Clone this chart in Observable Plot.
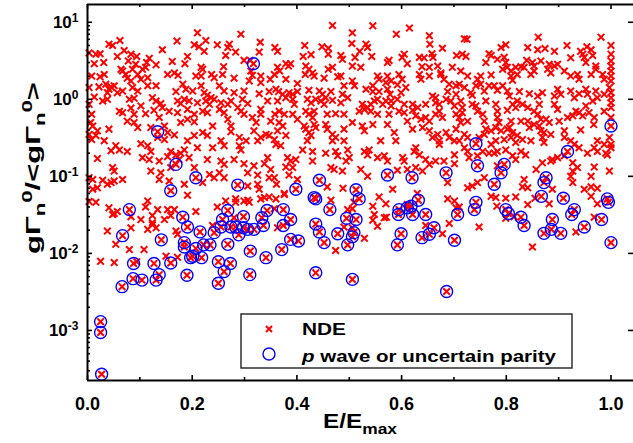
<!DOCTYPE html>
<html><head><meta charset="utf-8">
<script src="https://cdn.jsdelivr.net/npm/d3@7"></script>
<script src="https://cdn.jsdelivr.net/npm/@observablehq/plot@0.6"></script>
<style>
html,body{margin:0;padding:0;background:#fff;overflow:hidden}
#chart{width:633px;height:443px}
</style></head><body><div id="chart"></div>
<script>
// [E/Emax, gΓn0/<gΓn0>] — NDE resonances (red crosses only)
const ndeLeft = [
[0.210,7.3],[0.293,7.0],[0.062,5.8],[0.171,5.7],[0.226,5.8],[0.330,5.5],[0.041,5.2],[0.048,5.0],[0.204,5.1],[0.213,4.8],[0.248,5.1],[0.271,5.2],[0.268,4.7],[0.070,4.3],[0.143,4.4],[0.328,4.1],[0.003,4.0],[0.016,3.85],[0.024,3.9],[0.083,3.85],[0.094,3.6],[0.223,4.2],[0.283,4.1],[0.057,3.6],[0.191,3.6],[0.264,3.7],[0.078,3.15],[0.118,3.4],[0.113,3.0],[0.013,2.9],[0.031,3.0],[0.092,2.85],[0.131,2.8],[0.162,3.1],[0.186,2.9],[0.220,2.45],[0.217,2.6],[0.260,2.65],[0.299,3.2],[0.311,3.2],
[0.064,2.45],[0.067,2.33],[0.105,2.45],[0.086,2.45],[0.111,2.6],[0.032,2.1],[0.008,2.0],[0.024,1.96],[0.073,2.1],[0.076,1.88],[0.083,1.73],[0.096,2.1],[0.102,1.82],[0.115,1.91],[0.153,2.1],[0.166,2.2],[0.173,2.05],[0.207,2.0],[0.217,2.0],[0.237,2.1],[0.242,1.91],[0.258,2.1],[0.280,1.88],[0.312,2.33],[0.315,2.05],[0.309,1.73],[0.331,2.0],[0.331,1.65],[0.349,1.82],
[0.003,1.42],[0.022,1.45],[0.035,1.57],[0.041,1.35],[0.045,1.45],[0.051,1.5],[0.038,1.22],[0.057,1.22],[0.067,1.28],[0.086,1.42],[0.096,1.28],[0.131,1.5],[0.115,1.5],[0.182,1.57],[0.188,1.35],[0.201,1.28],[0.169,1.26],[0.217,1.5],[0.223,1.22],[0.229,1.13],[0.236,1.05],[0.252,1.5],[0.261,1.28],[0.280,1.22],[0.299,1.28],[0.328,1.18],[0.347,1.26],
[0.029,0.95],[0.038,1.0],[0.013,1.07],[0.003,0.86],[0.080,1.0],[0.089,1.03],[0.124,1.05],[0.131,0.95],[0.140,0.88],[0.172,0.95],[0.178,0.88],[0.185,1.0],[0.194,0.95],[0.210,0.90],[0.226,0.95],[0.233,0.86],[0.242,1.0],[0.255,0.90],[0.268,0.86],[0.274,0.95],[0.296,1.0],[0.306,0.88],[0.344,0.95],
[0.061,0.70],[0.067,0.67],[0.083,0.77],[0.089,0.64],[0.102,0.82],[0.111,0.65],[0.127,0.72],[0.143,0.78],[0.156,0.70],[0.172,0.67],[0.191,0.74],[0.204,0.64],[0.220,0.70],[0.229,0.67],[0.252,0.74],[0.261,0.67],[0.287,0.78],[0.293,0.70],[0.299,0.64],[0.331,0.74],[0.331,0.64],[0.008,0.64],[0.006,0.50],[0.010,0.45],[0.076,0.52],[0.089,0.50],[0.137,0.58],[0.178,0.50],[0.191,0.55],[0.204,0.51],[0.239,0.45],[0.268,0.55],[0.274,0.45],[0.315,0.58],[0.322,0.50],[0.350,0.52],
[0.003,0.35],[0.019,0.39],[0.041,0.41],[0.096,0.43],[0.121,0.43],[0.147,0.45],[0.153,0.37],[0.166,0.345],[0.220,0.37],[0.229,0.34],[0.274,0.38],[0.318,0.39],[0.341,0.35],[0.008,0.30],[0.016,0.34],[0.032,0.29],[0.134,0.32],[0.147,0.30],[0.191,0.29],[0.204,0.34],[0.290,0.32],[0.303,0.29],[0.325,0.29],[0.331,0.32],[0.347,0.34],
[0.054,0.25],[0.061,0.22],[0.045,0.215],[0.076,0.21],[0.102,0.265],[0.115,0.25],[0.121,0.21],[0.159,0.21],[0.169,0.19],[0.178,0.20],[0.185,0.22],[0.210,0.235],[0.239,0.235],[0.255,0.29],[0.261,0.25],[0.290,0.25],[0.293,0.22],[0.019,0.17],[0.105,0.175],[0.118,0.165],[0.137,0.158],[0.153,0.18],[0.159,0.13],[0.175,0.165],[0.194,0.175],[0.229,0.165],[0.255,0.158],[0.261,0.143],[0.280,0.165],[0.299,0.146],[0.318,0.137],[0.338,0.146],[0.344,0.175],
[0.048,0.13],[0.051,0.117],[0.121,0.117],[0.140,0.111],[0.204,0.13],[0.233,0.106],[0.252,0.111],[0.261,0.096],[0.306,0.111],[0.325,0.104],[0.350,0.123],[0.003,0.096],[0.010,0.091],[0.029,0.089],[0.038,0.079],[0.045,0.083],[0.051,0.087],[0.067,0.091],[0.019,0.071],[0.137,0.091],[0.156,0.087],[0.185,0.079],[0.220,0.083],[0.242,0.096],[0.325,0.079],[0.328,0.068],[0.306,0.075],[0.347,0.096],[0.010,0.068]
];
const ndeMid = [
[0.468,9.1],[0.545,9.0],[0.615,8.4],[0.506,7.3],[0.590,7.0],[0.653,6.7],[0.505,5.3],[0.532,5.2],[0.415,5.0],[0.358,4.7],[0.448,4.8],[0.460,4.6],[0.678,4.6],[0.654,5.2],[0.363,4.2],[0.535,4.7],[0.520,4.2],[0.460,3.85],[0.543,3.6],[0.412,3.6],[0.427,3.8],[0.484,3.7],[0.487,3.3],[0.511,3.5],[0.576,3.2],[0.573,3.0],[0.605,3.85],[0.601,3.5],[0.634,3.5],[0.643,3.45],[0.658,3.9],[0.660,3.5],[0.705,3.7],[0.611,2.9],[0.379,2.9],[0.384,2.7],[0.388,2.9],[0.363,2.6],[0.367,2.33],[0.417,2.7],[0.423,2.45],[0.468,2.6],[0.460,2.45],[0.506,2.7],[0.522,2.6],[0.639,2.65],[0.653,2.6],[0.669,2.7],[0.697,2.6],[0.675,2.2],
[0.357,2.1],[0.379,1.82],[0.401,1.6],[0.430,2.2],[0.433,2.0],[0.416,2.1],[0.452,1.88],[0.478,1.96],[0.484,2.0],[0.506,1.73],[0.490,1.5],[0.510,1.5],[0.554,2.0],[0.557,1.82],[0.545,1.5],[0.573,2.0],[0.570,1.65],[0.580,1.73],[0.595,2.1],[0.601,1.82],[0.592,1.54],[0.608,1.42],[0.634,2.1],[0.637,1.82],[0.653,2.0],[0.675,2.1],[0.681,1.82],[0.691,1.57],[0.704,1.5],
[0.360,1.35],[0.365,1.26],[0.373,1.16],[0.385,1.22],[0.392,1.16],[0.401,1.26],[0.423,1.31],[0.443,1.28],[0.449,1.16],[0.465,1.26],[0.487,1.16],[0.532,1.35],[0.545,1.26],[0.557,1.26],[0.573,1.35],[0.578,1.16],[0.599,1.22],[0.659,1.1],[0.665,1.05],[0.688,1.26],[0.704,1.16],
[0.363,0.95],[0.379,1.05],[0.392,1.0],[0.395,0.86],[0.420,1.0],[0.427,0.90],[0.436,1.0],[0.446,0.95],[0.452,0.86],[0.455,1.05],[0.468,0.97],[0.484,0.90],[0.497,1.05],[0.525,0.86],[0.535,0.78],[0.541,0.86],[0.548,0.95],[0.554,1.0],[0.564,0.86],[0.570,0.95],[0.580,0.95],[0.580,0.82],[0.592,1.0],[0.605,0.86],[0.621,0.86],[0.631,0.78],[0.646,0.86],[0.665,0.90],[0.672,0.86],[0.685,1.0],[0.694,0.95],[0.701,0.82],
[0.366,0.70],[0.358,0.64],[0.376,0.64],[0.392,0.64],[0.401,0.55],[0.417,0.70],[0.423,0.64],[0.430,0.58],[0.433,0.70],[0.458,0.64],[0.474,0.65],[0.490,0.64],[0.519,0.70],[0.529,0.74],[0.541,0.70],[0.554,0.64],[0.576,0.64],[0.595,0.70],[0.605,0.67],[0.621,0.72],[0.627,0.61],[0.637,0.55],[0.646,0.58],[0.653,0.52],[0.665,0.64],[0.672,0.70],[0.678,0.58],[0.704,0.64],
[0.366,0.50],[0.373,0.45],[0.363,0.39],[0.379,0.34],[0.357,0.30],[0.360,0.26],[0.369,0.25],[0.414,0.45],[0.417,0.41],[0.423,0.37],[0.427,0.34],[0.420,0.29],[0.433,0.47],[0.436,0.43],[0.455,0.47],[0.458,0.41],[0.468,0.35],[0.474,0.32],[0.468,0.29],[0.490,0.41],[0.490,0.29],[0.506,0.50],[0.525,0.45],[0.529,0.39],[0.545,0.47],[0.560,0.29],[0.573,0.47],[0.586,0.37],[0.589,0.29],[0.611,0.52],[0.621,0.41],[0.640,0.43],[0.653,0.39],[0.659,0.32],[0.669,0.35],[0.672,0.29],[0.685,0.37],[0.691,0.32],[0.704,0.41],[0.701,0.29],[0.672,0.26],
[0.382,0.175],[0.388,0.158],[0.398,0.165],[0.411,0.22],[0.430,0.21],[0.430,0.158],[0.455,0.20],[0.474,0.21],[0.478,0.185],[0.497,0.22],[0.500,0.175],[0.494,0.158],[0.529,0.21],[0.538,0.22],[0.535,0.19],[0.554,0.175],[0.567,0.185],[0.573,0.158],[0.602,0.175],[0.605,0.158],[0.624,0.21],[0.627,0.235],[0.634,0.19],[0.646,0.165],[0.653,0.143],[0.665,0.158],[0.681,0.158],[0.701,0.19],[0.701,0.146],
[0.379,0.132],[0.392,0.13],[0.357,0.096],[0.385,0.104],[0.401,0.091],[0.465,0.13],[0.471,0.123],[0.487,0.117],[0.522,0.123],[0.535,0.10],[0.592,0.12],[0.611,0.123],[0.627,0.13],[0.640,0.117],[0.688,0.083],[0.361,0.079],[0.458,0.073],[0.488,0.07],[0.583,0.068],[0.630,0.060],[0.376,0.060]
];
const ndeRight = [
[0.861,6.4],[0.981,6.4],[0.720,6.1],[0.725,6.0],[1.000,5.0],[0.790,4.7],[0.799,5.1],[0.841,4.7],[0.860,4.4],[0.874,4.55],[0.892,4.2],[0.916,5.0],[0.954,4.8],[0.942,4.2],[0.946,3.85],[0.949,3.5],[0.962,4.4],[1.000,3.85],[0.716,3.85],[0.723,3.6],[0.767,3.9],[0.771,3.7],[0.761,3.0],[0.783,3.3],[0.796,3.5],[0.799,3.0],[0.839,3.2],[0.850,3.0],[0.853,2.7],[0.866,3.15],[0.882,2.85],[0.892,2.7],[0.898,2.85],[0.923,3.45],[0.952,3.0],[0.965,3.7],[0.971,2.7],[1.000,3.15],[1.000,2.7],[1.000,2.33],
[0.713,2.33],[0.726,2.0],[0.745,1.82],[0.751,2.0],[0.771,2.07],[0.793,2.45],[0.802,2.6],[0.809,2.33],[0.818,2.6],[0.828,2.65],[0.834,2.6],[0.821,2.1],[0.809,2.0],[0.812,1.77],[0.847,2.1],[0.853,2.33],[0.879,2.45],[0.885,2.2],[0.911,2.33],[0.923,2.0],[0.936,2.1],[0.939,1.82],[0.962,2.1],[0.971,2.45],[0.984,2.1],[0.987,1.82],[1.000,2.0],[1.000,1.73],
[0.710,1.57],[0.720,1.42],[0.732,1.22],[0.735,1.13],[0.742,1.5],[0.751,1.57],[0.758,1.28],[0.767,1.5],[0.777,1.5],[0.783,1.31],[0.793,1.5],[0.802,1.28],[0.806,1.1],[0.825,1.26],[0.844,1.18],[0.860,1.1],[0.869,1.22],[0.898,1.35],[0.892,1.1],[0.904,1.16],[0.923,1.28],[0.930,1.05],[0.939,1.18],[0.952,1.35],[0.955,1.16],[0.971,1.28],[0.974,1.05],[0.987,1.16],[0.997,1.42],[1.000,1.22],[1.000,1.05],[1.000,0.90],[1.000,0.78],
[0.713,0.95],[0.716,0.78],[0.716,0.67],[0.735,0.86],[0.742,0.82],[0.745,0.70],[0.755,0.64],[0.761,0.95],[0.780,0.86],[0.783,0.70],[0.802,0.72],[0.812,0.86],[0.818,0.78],[0.821,0.95],[0.831,0.86],[0.841,0.78],[0.853,0.70],[0.860,0.64],[0.863,0.86],[0.866,0.55],[0.876,0.55],[0.892,0.86],[0.898,0.74],[0.917,0.58],[0.927,0.61],[0.933,0.70],[0.939,0.67],[0.946,0.61],[0.952,0.82],[0.958,0.67],[0.965,0.95],[0.968,0.58],[0.987,0.70],[1.000,0.58],
[0.710,0.58],[0.713,0.50],[0.726,0.52],[0.758,0.52],[0.761,0.41],[0.783,0.58],[0.786,0.50],[0.780,0.43],[0.806,0.43],[0.809,0.52],[0.828,0.52],[0.841,0.52],[0.844,0.43],[0.853,0.47],[0.863,0.45],[0.866,0.39],[0.872,0.37],[0.882,0.50],[0.885,0.35],[0.901,0.52],[0.911,0.39],[0.942,0.40],[0.967,0.47],[0.974,0.29],[0.987,0.26],[0.997,0.32],[1.000,0.26],[1.000,0.235],[0.993,0.19],
[0.720,0.35],[0.726,0.32],[0.710,0.29],[0.748,0.32],[0.758,0.35],[0.771,0.39],[0.790,0.39],[0.802,0.41],[0.812,0.37],[0.821,0.34],[0.771,0.26],[0.780,0.29],[0.796,0.30],[0.809,0.32],[0.818,0.275],[0.831,0.30],[0.847,0.29],[0.869,0.32],[0.872,0.275],[0.911,0.32],[0.923,0.29],[0.930,0.26],[0.939,0.235],[0.955,0.20],[0.968,0.235],[0.974,0.21],[0.990,0.20],
[0.720,0.235],[0.726,0.21],[0.745,0.185],[0.755,0.21],[0.767,0.20],[0.777,0.20],[0.783,0.21],[0.799,0.22],[0.812,0.185],[0.818,0.165],[0.828,0.21],[0.837,0.19],[0.888,0.165],[0.898,0.175],[0.911,0.185],[0.927,0.15],[0.729,0.175],[0.783,0.137],[0.857,0.123],[0.869,0.15],[0.885,0.158],[0.927,0.117],[0.936,0.13],[0.962,0.10],[0.968,0.132],[0.997,0.117],
[0.758,0.096],[0.745,0.083],[0.735,0.075],[0.726,0.071],[0.834,0.091],[0.831,0.073],[0.841,0.071],[0.888,0.068],[0.923,0.10],[0.927,0.083],[0.949,0.068],[0.962,0.073],[0.974,0.07]
];
const ndeLow = [
[0.003,0.047],[0.016,0.046],[0.041,0.039],[0.048,0.032],[0.051,0.033],[0.057,0.035],[0.115,0.048],[0.111,0.040],[0.134,0.037],[0.124,0.031],[0.083,0.030],[0.102,0.0275],[0.147,0.0275],[0.153,0.037],[0.166,0.037],[0.159,0.031],[0.207,0.035],[0.191,0.057],[0.264,0.048],[0.283,0.051],[0.283,0.046],[0.299,0.048],[0.306,0.049],[0.309,0.046],[0.331,0.051],[0.338,0.053],[0.347,0.054],[0.248,0.040],[0.239,0.023],[0.280,0.029],[0.169,0.0195],[0.172,0.0177],[0.115,0.0205],[0.124,0.0235],[0.131,0.0215],[0.124,0.025],[0.083,0.0215],[0.038,0.0195],[0.054,0.0131],[0.080,0.0112],[0.108,0.0112],[0.150,0.0092],[0.172,0.0089],[0.025,0.0079],[0.051,0.0076],[0.094,0.0078],
[0.376,0.058],[0.360,0.051],[0.357,0.038],[0.465,0.049],[0.557,0.054],[0.570,0.044],[0.545,0.041],[0.509,0.046],[0.506,0.038],[0.497,0.037],[0.363,0.0215],[0.382,0.025],[0.548,0.032],[0.545,0.027],[0.554,0.0225],[0.567,0.029],[0.571,0.0295],[0.490,0.022],[0.506,0.0215],[0.474,0.0109],[0.529,0.0157],[0.611,0.043],[0.646,0.023],[0.678,0.018],[0.691,0.0245],[0.688,0.051],[0.701,0.048],[0.704,0.039],
[0.710,0.040],[0.771,0.055],[0.780,0.053],[0.799,0.052],[0.818,0.054],[0.855,0.052],[0.882,0.044],[0.782,0.041],[0.841,0.043],[0.962,0.055],[0.974,0.044],[0.748,0.022],[0.799,0.0285],[0.850,0.0121],[0.933,0.019],[0.968,0.0295],[0.815,0.030]
];
// p wave or uncertain parity (also NDE)
const pWave = [
[0.317,2.9],[0.134,0.38],[0.169,0.143],[0.207,0.096],[0.159,0.065],[0.287,0.077],
[0.573,0.104],[0.620,0.096],[0.685,0.111],[0.443,0.089],[0.513,0.067],[0.398,0.068],
[1.000,0.45],[0.742,0.265],[0.917,0.21],[0.745,0.137],[0.796,0.143],[0.790,0.111],[0.876,0.096],[0.872,0.083],[0.777,0.079],
[0.080,0.037],[0.268,0.036],[0.258,0.0275],[0.298,0.030],[0.333,0.029],[0.343,0.036],[0.182,0.0295],[0.191,0.022],[0.255,0.022],[0.274,0.022],[0.283,0.022],[0.298,0.0215],[0.306,0.0205],[0.318,0.0205],[0.336,0.023],[0.067,0.017],[0.141,0.015],[0.242,0.0186],[0.289,0.0174],[0.215,0.019],[0.185,0.0138],[0.185,0.0121],[0.207,0.0116],[0.222,0.0129],[0.234,0.0129],[0.268,0.0131],[0.311,0.0107],[0.197,0.0088],[0.201,0.0092],[0.218,0.0088],[0.341,0.0088],[0.088,0.0074],[0.127,0.0074],[0.159,0.0075],[0.250,0.0078],[0.273,0.0074],[0.261,0.0058],[0.310,0.0053],[0.190,0.0052],[0.137,0.0053],[0.131,0.0045],[0.087,0.0047],[0.104,0.0045],[0.066,0.0037],[0.250,0.0041],[0.025,0.0013],[0.025,0.00094],[0.027,0.00027],
[0.433,0.053],[0.436,0.051],[0.519,0.051],[0.632,0.049],[0.374,0.037],[0.463,0.037],[0.495,0.0285],[0.513,0.0275],[0.595,0.037],[0.594,0.032],[0.611,0.039],[0.618,0.041],[0.621,0.032],[0.646,0.032],[0.388,0.0275],[0.374,0.023],[0.436,0.024],[0.443,0.019],[0.478,0.018],[0.509,0.0186],[0.506,0.0164],[0.497,0.0129],[0.452,0.0138],[0.388,0.0152],[0.403,0.0145],[0.371,0.0112],[0.599,0.018],[0.592,0.0129],[0.639,0.016],[0.653,0.0177],[0.662,0.0215],[0.701,0.0148],[0.436,0.0056],[0.506,0.0046],[0.686,0.0032],
[0.742,0.046],[0.739,0.037],[0.707,0.032],[0.799,0.037],[0.804,0.033],[0.828,0.0295],[0.834,0.023],[0.867,0.055],[0.909,0.052],[0.930,0.037],[0.925,0.032],[0.888,0.0275],[0.886,0.0205],[0.872,0.0182],[0.904,0.0182],[0.949,0.022],[0.982,0.0275],[0.993,0.051],[0.995,0.046],[1.000,0.0138]
];

const xMajor = [0, 0.2, 0.4, 0.6, 0.8, 1.0];
const xMinor = [0.1, 0.3, 0.5, 0.7, 0.9];
const yMajor = [1e-3, 1e-2, 1e-1, 1, 10];
const yMinor = [3e-4,4e-4,5e-4,6e-4,7e-4,8e-4,9e-4,
  2e-3,3e-3,4e-3,5e-3,6e-3,7e-3,8e-3,9e-3,
  2e-2,3e-2,4e-2,5e-2,6e-2,7e-2,8e-2,9e-2,
  0.2,0.3,0.4,0.5,0.6,0.7,0.8,0.9,
  2,3,4,5,6,7,8,9];
const legendLabels = ["NDE", "wave or uncertain parity"];
const xDomain = [0, 1.043];
const yDomain = [2.24e-4, 17];

const toObj = ([E, g]) => ({E, g});
const ndeAll = [...ndeLeft, ...ndeMid, ...ndeRight, ...ndeLow, ...pWave].map(toObj);
const pw = pWave.map(toObj);

const W = 633, H = 443, mL = 87, mR = 0, mT = 4, mB = 63;
const innerW = W - mL - mR, innerH = H - mT - mB;
const ax = {stroke: "black", strokeWidth: 1.6};

const plot = Plot.plot({
  width: W, height: H,
  marginLeft: mL, marginRight: mR, marginTop: mT, marginBottom: mB,
  style: {fontFamily: "'Liberation Sans', Arial, sans-serif", fontWeight: "bold", fontSize: "17px", background: "white", color: "black"},
  x: {domain: xDomain, axis: null},
  y: {type: "log", domain: yDomain, axis: null},
  marks: [
    Plot.dot(ndeAll, {x: "E", y: "g", symbol: "times", r: 3.1, stroke: "#ff0000", strokeWidth: 2}),
    Plot.dot(pw, {x: "E", y: "g", r: 6, stroke: "#0000ff", strokeWidth: 1.4, fill: "none"}),
    Plot.ruleX([xDomain[0]], {stroke: "black", strokeWidth: 2}),
    Plot.ruleY(yDomain, {stroke: "black", strokeWidth: 2}),
    Plot.tickX(xMajor, {x: d => d, insetTop: innerH - 5, ...ax}),
    Plot.tickX(xMinor, {x: d => d, insetTop: innerH - 3, ...ax}),
    Plot.tickX(xMajor, {x: d => d, insetBottom: innerH - 5, ...ax}),
    Plot.tickX(xMinor, {x: d => d, insetBottom: innerH - 3, ...ax}),
    Plot.tickY(yMajor, {y: d => d, insetRight: innerW - 5, ...ax}),
    Plot.tickY(yMinor, {y: d => d, insetRight: innerW - 3, ...ax}),
    Plot.tickY(yMajor, {y: d => d, insetLeft: innerW - 5, ...ax}),
    Plot.axisX(xMajor, {tickSize: 0, tickPadding: 17, tickFormat: d3.format(".1f"), fontSize: 18, label: null}),
    Plot.axisY(yMajor, {tickSize: 0, tickPadding: 9, tickFormat: d => "10|" + Math.round(Math.log10(d)), fontSize: 17, label: null})
  ]
});
document.getElementById("chart").appendChild(plot);

const svg = d3.select(plot);
// superscript exponents on y tick labels
svg.selectAll('[aria-label="y-axis tick label"] text').each(function () {
  const parts = this.textContent.split("|");
  const t = d3.select(this);
  t.text(null);
  t.append("tspan").text(parts[0]);
  t.append("tspan").attr("dy", -6).attr("font-size", "12px").text(parts[1]);
});

// x label
const xl = svg.append("text").attr("x", 360).attr("y", 428).attr("text-anchor", "middle")
  .attr("font-size", 21).attr("textLength", 74).attr("lengthAdjust", "spacingAndGlyphs");
xl.append("tspan").text("E/E");
xl.append("tspan").attr("font-size", 15).attr("dy", 6).text("max");

// y label
const yl = svg.append("text").attr("transform", "translate(40,168) rotate(-90)").attr("text-anchor", "middle")
  .attr("font-size", 21).attr("textLength", 172).attr("lengthAdjust", "spacingAndGlyphs");
yl.append("tspan").text("gΓ");
yl.append("tspan").attr("font-size", 15).attr("dy", 5).text("n");
yl.append("tspan").attr("font-size", 15).attr("dy", -13).text("0");
yl.append("tspan").attr("dy", 8).text("/<gΓ");
yl.append("tspan").attr("font-size", 15).attr("dy", 5).text("n");
yl.append("tspan").attr("font-size", 15).attr("dy", -13).text("0");
yl.append("tspan").attr("dy", 8).text(">");

// legend
const lg = svg.append("g").attr("text-anchor", "start");
lg.append("rect").attr("x", 241).attr("y", 314).attr("width", 331).attr("height", 54)
  .attr("fill", "white").attr("stroke", "#222").attr("stroke-width", 1.4);
lg.append("path").attr("d", "M266,326L272,332M272,326L266,332").attr("stroke", "#ff0000").attr("stroke-width", 2);
lg.append("circle").attr("cx", 269).attr("cy", 354).attr("r", 6).attr("fill", "none").attr("stroke", "#0000ff").attr("stroke-width", 1.4);
lg.append("text").attr("x", 302).attr("y", 335).attr("font-size", 17).attr("text-anchor", "start")
  .attr("textLength", 44).attr("lengthAdjust", "spacingAndGlyphs").text(legendLabels[0]);
const l2 = lg.append("text").attr("x", 302).attr("y", 362).attr("font-size", 17).attr("text-anchor", "start")
  .attr("textLength", 254).attr("lengthAdjust", "spacingAndGlyphs");
l2.append("tspan").attr("font-style", "italic").text("p");
l2.append("tspan").text(" " + legendLabels[1]);
</script>
</body></html>
